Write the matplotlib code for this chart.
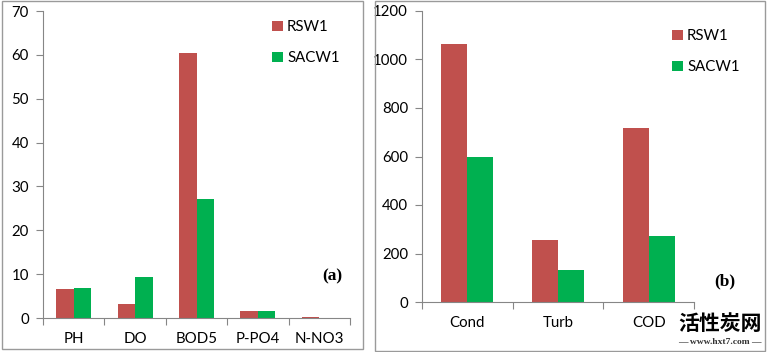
import matplotlib.pyplot as plt
import numpy as np
from matplotlib.patches import Rectangle

# panel (a)
cats_a = ['PH', 'DO', 'BOD5', 'P-PO4', 'N-NO3']
rsw1_a = [6.6, 3.2, 60.5, 1.7, 0.2]
sacw1_a = [6.8, 9.4, 27.2, 1.5, 0.1]

# panel (b)
cats_b = ['Cond', 'Turb', 'COD']
rsw1_b = [1065, 256, 716]
sacw1_b = [597, 130, 274]

RED = '#C0504D'
GREEN = '#00B050'
AXC = '#868686'
FS = 10.8

W, H = 767, 352
plt.rcParams['font.family'] = ['Lato', 'DejaVu Sans']
fig = plt.figure(figsize=(W / 100, H / 100), dpi=100)


def px(x0, y0, x1, y1):
    # pixel box (top-left origin) -> figure fraction rect
    return [x0 / W, (H - y1) / H, (x1 - x0) / W, (y1 - y0) / H]


# panel frames
for x0, y0, x1, y1 in [(2, 1, 363, 349), (375, 1, 765, 351)]:
    fig.add_artist(Rectangle((x0 / W, (H - y1) / H), (x1 - x0) / W, (y1 - y0) / H,
                             transform=fig.transFigure, fill=False,
                             edgecolor='#9a9a9a', lw=1.0))


def panel(rect, cats, r, s, ymax, step, tag, leg_xy, tag_xy):
    ax = fig.add_axes(rect)
    n = len(cats)
    x = np.arange(n)
    bw = 1 / 3.5
    b1 = ax.bar(x - bw / 2, r, bw, color=RED, label='RSW1')
    b2 = ax.bar(x + bw / 2, s, bw, color=GREEN, label='SACW1')
    ax.set_xlim(-0.5, n - 0.5)
    ax.set_ylim(0, ymax)
    ax.set_yticks(np.arange(0, ymax + 1, step))
    ax.set_xticks(np.arange(-0.5, n, 1.0))
    ax.set_xticklabels([])
    ax.set_xticks(x, minor=True)
    ax.set_xticklabels(cats, minor=True)
    ax.tick_params(axis='x', which='major', length=5, color=AXC, direction='out')
    ax.tick_params(axis='x', which='minor', length=0, pad=10, labelsize=FS)
    ax.tick_params(axis='y', length=5, color=AXC, pad=5, labelsize=FS)
    for sp in ['top', 'right']:
        ax.spines[sp].set_visible(False)
    for sp in ['left', 'bottom']:
        ax.spines[sp].set_color(AXC)
    ax.legend(handles=[b1, b2], loc='upper left', frameon=False,
              bbox_to_anchor=(leg_xy[0] / W, 1 - leg_xy[1] / H),
              bbox_transform=fig.transFigure, borderpad=0, borderaxespad=0,
              handlelength=0.7, handleheight=0.7, handletextpad=0.3,
              labelspacing=1.15, fontsize=FS)
    fig.text(tag_xy[0] / W, 1 - tag_xy[1] / H, tag, ha='center', va='center',
             family='Liberation Serif', weight='bold', fontsize=12.5)
    return ax


panel(px(43, 11, 350, 318), cats_a, rsw1_a, sacw1_a, 70, 10, '(a)',
      (272, 20), (332, 276))
panel(px(422, 11, 694, 302), cats_b, rsw1_b, sacw1_b, 1200, 200, '(b)',
      (672, 29), (725, 281))

# site watermark
fig.text(720 / W, 1 - 324 / H, '活性炭网', ha='center', va='center',
         family=['Noto Sans CJK SC', 'DejaVu Sans'], weight='bold', fontsize=15)
fig.text(720 / W, 1 - 342 / H, '— www.hxt7.com —', ha='center', va='center',
         family='Liberation Serif', weight='bold', fontsize=6.8, color='#333333')

fig.savefig('out.png', dpi=100)
